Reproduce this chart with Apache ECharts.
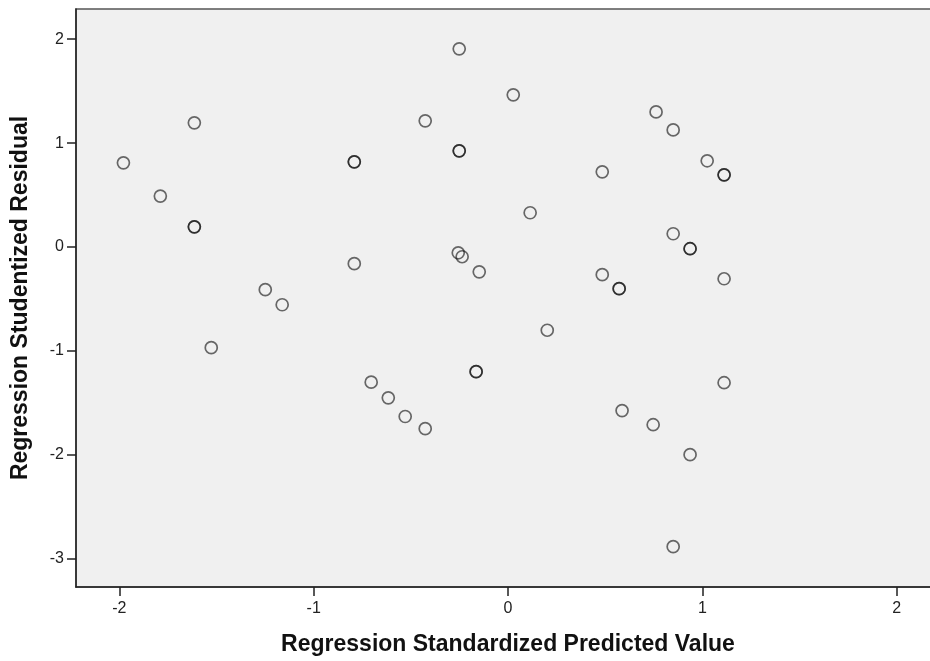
<!DOCTYPE html>
<html>
<head>
<meta charset="utf-8">
<script src="https://cdn.jsdelivr.net/npm/echarts@6/dist/echarts.min.js"></script>
<style>
html,body{margin:0;padding:0;background:#fff;overflow:hidden;width:930px;height:661px;}
#chart{width:940px;height:661px;}
</style>
</head>
<body>
<div id="chart"></div>
<script>
// Regression Standardized Predicted Value (x) / Regression Studentized Residual (y)
const predicted = [
  -1.979, -1.789, -1.614, -1.614, -1.614, -1.527, -1.249, -1.162,
  -0.791, -0.791, -0.791, -0.704, -0.616, -0.529, -0.426, -0.426,
  -0.251, -0.251, -0.251, -0.256, -0.236, -0.148, -0.164, -0.164,
  0.027, 0.114, 0.202, 0.485, 0.485, 0.572, 0.572, 0.587,
  0.762, 0.747, 0.850, 0.850, 0.850, 0.937, 0.937, 0.937,
  1.025, 1.112, 1.112, 1.112, 1.112
];
const residual = [
  0.810, 0.490, 1.195, 0.195, 0.195, -0.968, -0.410, -0.555,
  0.820, 0.820, -0.160, -1.300, -1.450, -1.630, 1.214, -1.747,
  1.907, 0.926, 0.926, -0.055, -0.093, -0.238, -1.199, -1.199,
  1.464, 0.330, -0.800, 0.724, -0.266, -0.400, -0.400, -1.573,
  1.300, -1.709, 1.127, 0.128, -2.882, -0.016, -0.016, -1.997,
  0.830, 0.695, 0.695, -0.305, -1.305
];
const xTicks = [-2, -1, 0, 1, 2];
const yTicks = [-3, -2, -1, 0, 1, 2];
const xName = 'Regression Standardized Predicted Value';
const yName = 'Regression Studentized Residual';

const points = predicted.map((v, i) => [v, residual[i]]);

const chart = echarts.init(document.getElementById('chart'), null, {renderer: 'canvas'});
const axisFont = 'Liberation Sans, Arial, sans-serif';
chart.setOption({
  animation: false,
  backgroundColor: '#ffffff',
  grid: {
    left: 76, top: 9, right: 0, bottom: 73,
    show: true, backgroundColor: '#f0f0f0', borderColor: '#555555', borderWidth: 1.5
  },
  xAxis: {
    type: 'value', min: -2.223, max: 2.223,
    name: xName, nameLocation: 'middle', nameGap: 46,
    nameTextStyle: {fontFamily: axisFont, fontWeight: 'bold', fontSize: 23, color: '#111'},
    axisLine: {show: true, onZero: false, lineStyle: {color: '#222', width: 1.5}},
    axisTick: {show: true, length: 9, lineStyle: {color: '#222', width: 1.5}, customValues: xTicks},
    axisLabel: {fontFamily: axisFont, fontSize: 16, color: '#222', margin: 14, customValues: xTicks},
    splitLine: {show: false}
  },
  yAxis: {
    type: 'value', min: -3.27, max: 2.29,
    name: yName, nameLocation: 'middle', nameGap: 44,
    nameTextStyle: {fontFamily: axisFont, fontWeight: 'bold', fontSize: 23, color: '#111'},
    axisLine: {show: true, onZero: false, lineStyle: {color: '#222', width: 1.5}},
    axisTick: {show: true, length: 9, lineStyle: {color: '#222', width: 1.5}, customValues: yTicks},
    axisLabel: {fontFamily: axisFont, fontSize: 16, color: '#222', margin: 12, customValues: yTicks},
    splitLine: {show: false}
  },
  series: [{
    type: 'scatter',
    data: points,
    symbol: 'circle',
    symbolSize: 12,
    itemStyle: {color: 'transparent', borderColor: 'rgba(10,10,10,0.75)', borderWidth: 1.7},
    emphasis: {disabled: true}
  }]
});
</script>
</body>
</html>
